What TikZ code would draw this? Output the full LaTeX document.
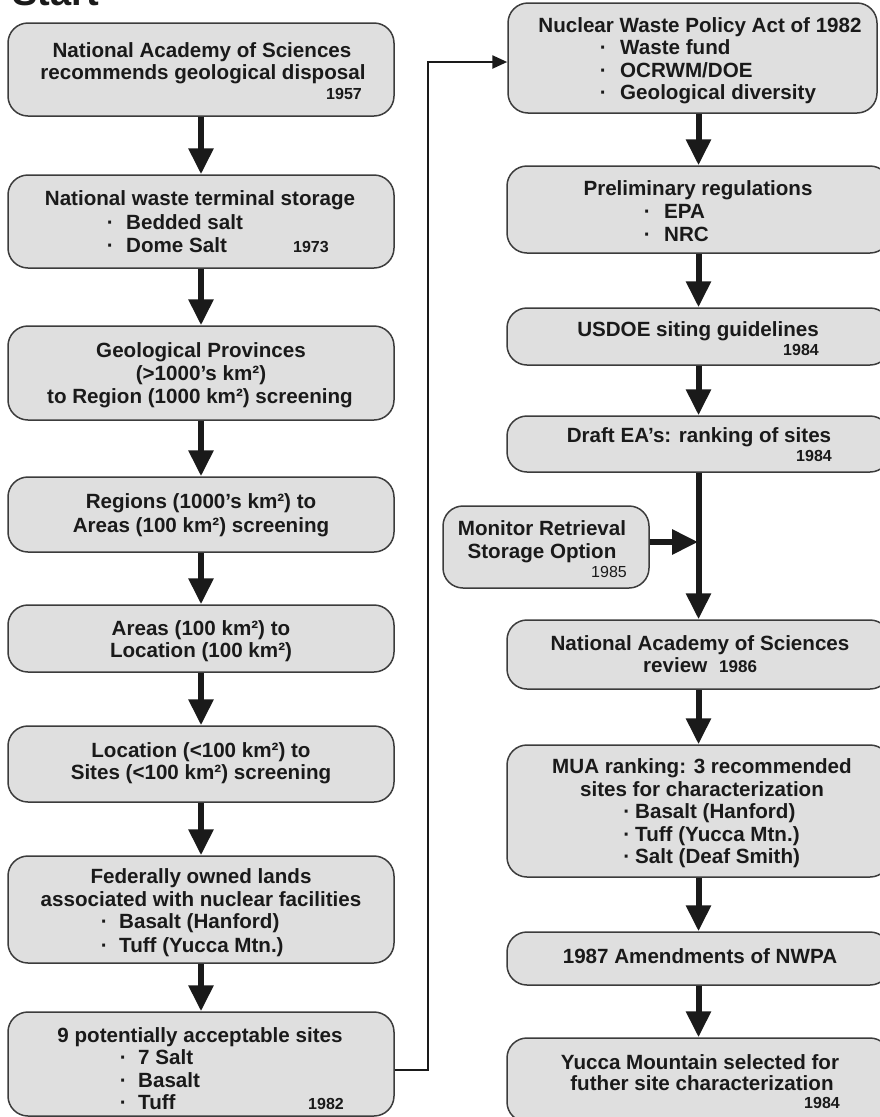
\documentclass[tikz,border=0pt]{standalone}
\usepackage{fontspec}
\setmainfont{Liberation Sans}
\usetikzlibrary{arrows.meta}
\definecolor{boxfill}{HTML}{DFDFDF}
\definecolor{boxline}{HTML}{3C3C3C}
\definecolor{ink}{HTML}{1A1A1A}
\newcommand\mainsz{\fontsize{20.6}{23}\selectfont}
\newcommand\yrsz{\fontsize{16}{18}\selectfont}
\newcommand\itm[2]{\llap{·\hspace{#1pt}}#2}
\begin{document}
\begin{tikzpicture}[x=1pt,y=-1pt,
  box/.style={draw=boxline, fill=boxfill, line width=1.5pt, rounded corners=20pt, inner sep=0pt},
  tx/.style={inner sep=0pt, text=ink, font=\mainsz\bfseries, anchor=base},
  tl/.style={tx, anchor=base west},
  yr/.style={inner sep=0pt, text=ink, font=\yrsz\bfseries, anchor=base east},
  bigarrow/.style={draw=ink, line width=6pt, -{Triangle[width=24pt,length=26pt]}},
  conn/.style={draw=ink, line width=2.5pt, -{Triangle[width=13pt,length=15pt]}}]
\useasboundingbox (0,0) rectangle (880,1117);

% title
\node[inner sep=0pt, text=ink, font=\fontsize{38}{40}\selectfont\bfseries, anchor=base west] (start) at (12,5) {Start};

% left column boxes
\node[box, minimum width=386pt, minimum height=93pt] (L1) at (201,69.5) {};
\node[box, minimum width=386pt, minimum height=93pt] (L2) at (201,221.5) {};
\node[box, minimum width=386pt, minimum height=94pt] (L3) at (201,373) {};
\node[box, minimum width=386pt, minimum height=75pt] (L4) at (201,514.5) {};
\node[box, minimum width=386pt, minimum height=67pt] (L5) at (201,638.5) {};
\node[box, minimum width=386pt, minimum height=76pt] (L6) at (201,764) {};
\node[box, minimum width=386pt, minimum height=107pt] (L7) at (201,909.5) {};
\node[box, minimum width=386pt, minimum height=104pt] (L8) at (201,1064) {};

% right column boxes
\node[box, minimum width=369pt, minimum height=110pt] (R1) at (692.5,58) {};
\node[box, minimum width=383pt, minimum height=87pt] (R2) at (698.5,209.5) {};
\node[box, minimum width=383pt, minimum height=57pt] (R3) at (698.5,336.5) {};
\node[box, minimum width=383pt, minimum height=56pt] (R4) at (698.5,444) {};
\node[box, minimum width=206pt, minimum height=82pt] (M) at (546,547) {};
\node[box, minimum width=383pt, minimum height=69pt] (R5) at (698.5,654.5) {};
\node[box, minimum width=383pt, minimum height=132pt] (R6) at (698.5,811) {};
\node[box, minimum width=383pt, minimum height=53pt] (R7) at (698.5,958.5) {};
\node[box, minimum width=383pt, minimum height=84pt] (R8) at (698.5,1080) {};

% arrows left
\draw[bigarrow] (L1.south) -- (L2.north);
\draw[bigarrow] (L2.south) -- (L3.north);
\draw[bigarrow] (L3.south) -- (L4.north);
\draw[bigarrow] (L4.south) -- (L5.north);
\draw[bigarrow] (L5.south) -- (L6.north);
\draw[bigarrow] (L6.south) -- (L7.north);
\draw[bigarrow] (L7.south) -- (L8.north);

% connector left -> right
\coordinate (c1) at (428,1070);
\coordinate (c2) at (428,62);
\draw[conn] (L8.east |- c1) -- (c1) -- (c2) -- (R1.west |- c2);

% arrows right
\draw[bigarrow] (R1.south -| R2.north) -- (R2.north);
\draw[bigarrow] (R2.south) -- (R3.north);
\draw[bigarrow] (R3.south) -- (R4.north);
\draw[bigarrow] (R4.south) -- (R5.north);
\coordinate (mj) at (698,542);
\draw[bigarrow] (M.east |- mj) -- (mj);
\draw[bigarrow] (R5.south) -- (R6.north);
\draw[bigarrow] (R6.south) -- (R7.north);
\draw[bigarrow] (R7.south) -- (R8.north);

% texts left
\node[tx] (L1a) at (202,57) {National Academy of Sciences};
\node[tx] (L1b) at (203,79) {recommends geological disposal};
\node[yr] (L1y) at (362,99) {1957};

\node[tx] (L2a) at (200,205) {National waste terminal storage};
\node[tl] (L2b) at (126,229) {\itm{12.5}{Bedded salt}};
\node[tl] (L2c) at (126,252) {\itm{12.5}{Dome Salt}};
\node[yr, anchor=base west] (L2y) at (293,252) {1973};

\node[tx] (L3a) at (201,357) {Geological Provinces};
\node[tx] (L3b) at (201,380) {(>1000’s km²)};
\node[tx] (L3c) at (200,403) {to Region (1000 km²) screening};

\node[tx] (L4a) at (201,508) {Regions (1000’s km²) to};
\node[tx] (L4b) at (201,532) {Areas (100 km²) screening};

\node[tx] (L5a) at (201,635) {Areas (100 km²) to};
\node[tx] (L5b) at (201,657) {Location (100 km²)};

\node[tx] (L6a) at (201,757) {Location (<100 km²) to};
\node[tx] (L6b) at (201,779) {Sites (<100 km²) screening};

\node[tx] (L7a) at (201,883) {Federally owned lands};
\node[tx] (L7b) at (201,906) {associated with nuclear facilities};
\node[tl] (L7c) at (119,928) {\itm{11.5}{Basalt (Hanford)}};
\node[tl] (L7d) at (119,952) {\itm{11.5}{Tuff (Yucca Mtn.)}};

\node[tx] (L8a) at (200,1042) {9 potentially acceptable sites};
\node[tl] (L8b) at (138,1064) {\itm{11.5}{7 Salt}};
\node[tl] (L8c) at (138,1087) {\itm{11.5}{Basalt}};
\node[tl] (L8d) at (138,1109) {\itm{11.5}{Tuff}};
\node[yr] (L8y) at (344,1109) {1982};

% texts right
\node[tx] (R1a) at (700,32) {Nuclear Waste Policy Act of 1982};
\node[tl] (R1b) at (620,54) {\itm{13.5}{Waste fund}};
\node[tl] (R1c) at (620,77) {\itm{13.5}{OCRWM/DOE}};
\node[tl] (R1d) at (620,99) {\itm{13.5}{Geological diversity}};

\node[tx] (R2a) at (698,195) {Preliminary regulations};
\node[tl] (R2b) at (664,218) {\itm{13.5}{EPA}};
\node[tl] (R2c) at (664,241) {\itm{13.5}{NRC}};

\node[tx] (R3a) at (698,336) {USDOE siting guidelines};
\node[yr] (R3y) at (819,355) {1984};

\node[tx] (R4a) at (699,442) {Draft EA’s: ranking of sites};
\node[yr] (R4y) at (832,461) {1984};

\node[tx] (Ma) at (542,535) {Monitor Retrieval};
\node[tx] (Mb) at (542,558) {Storage Option};
\node[yr, font=\yrsz] (My) at (627,577) {1985};

\node[tx] (R5a) at (700,650) {National Academy of Sciences};
\node[tl] (R5b) at (643,672) {review};
\node[yr, anchor=base west, font=\fontsize{17}{19}\selectfont\bfseries] (R5y) at (719,672) {1986};

\node[tx] (R6a) at (702,773) {MUA ranking: 3 recommended};
\node[tx] (R6b) at (702,796) {sites for characterization};
\node[tl] (R6c) at (635,818) {\itm{5}{Basalt (Hanford)}};
\node[tl] (R6d) at (635,841) {\itm{5}{Tuff (Yucca Mtn.)}};
\node[tl] (R6e) at (635,863) {\itm{5}{Salt (Deaf Smith)}};

\node[tx] (R7a) at (700,963) {1987 Amendments of NWPA};

\node[tx] (R8a) at (700,1069) {Yucca Mountain selected for};
\node[tx] (R8b) at (702,1090) {futher site characterization};
\node[yr] (R8y) at (840,1108) {1984};
\end{tikzpicture}
\end{document}
